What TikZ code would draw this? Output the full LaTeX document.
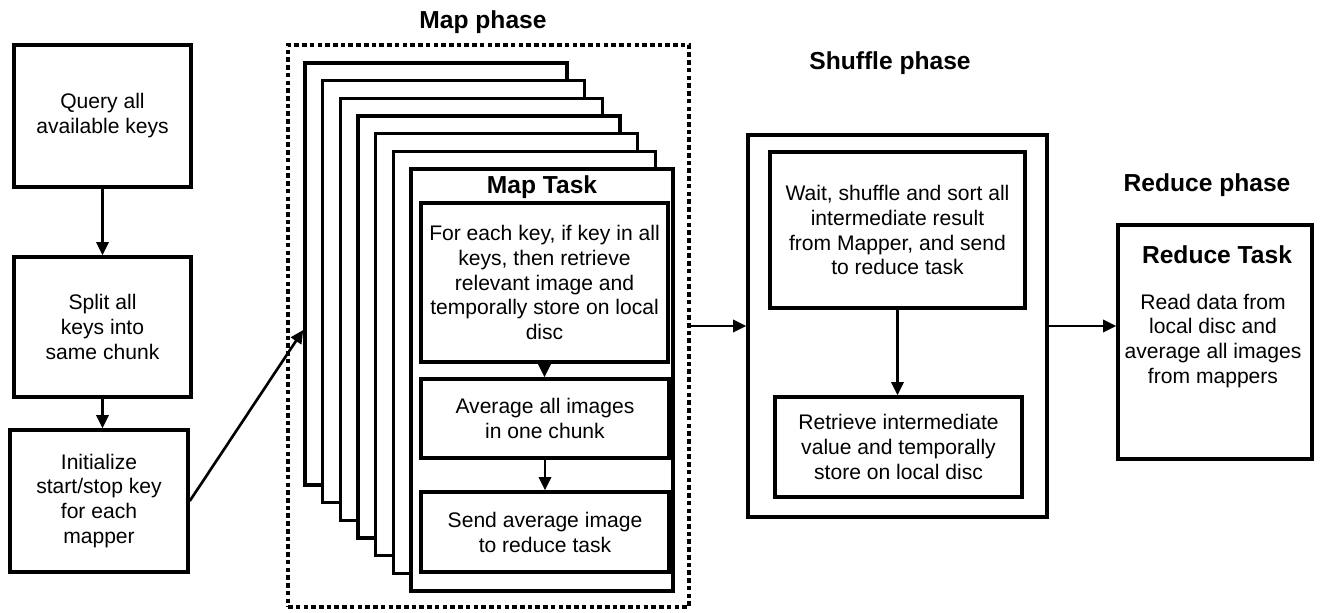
\documentclass[tikz,border=0pt]{standalone}
\usepackage{fontspec}
\setmainfont{Liberation Sans}
\usepackage{tikz}
\usetikzlibrary{arrows.meta, positioning, calc}

\begin{document}
\begin{tikzpicture}[x=0.02cm,y=-0.02cm,
                    >={Triangle[length=7.5pt,width=7pt]},
                    box/.style={draw,line width=2pt,fill=white,align=center,inner sep=0pt,font=\fontsize{12}{14.2}\selectfont},
                    phase/.style={font=\bfseries\fontsize{14}{16}\selectfont},
                    link/.style={->,line width=1.5pt}]
 \useasboundingbox (0,0) rectangle (1321,612);

%Left column
 \node[box,minimum width=3.54cm,minimum height=2.84cm] (Query) at (102.5,116) {Query all\\available keys};
 \node[box,minimum width=3.54cm,minimum height=2.80cm] (Split) at (102.5,327) {Split all\\keys into\\same chunk};
 \node[box,minimum width=3.56cm,minimum height=2.84cm] (Init) at (99,501) {Initialize\\start/stop key\\for each\\mapper};

 \draw[link] (Query.south) -- (Split.north);
 \draw[link] (Split.south) -- (Split.south |- Init.north);

%Map phase
 \node[phase] (MapLabel) at (483,22) {Map phase};
 \node[draw,line width=2pt,dash pattern=on 2.6pt off 1.8pt,minimum width=8.02cm,minimum height=11.24cm] (MapBox) at (488.5,326) {};

 \foreach \i in {0,...,6}
    \node[box,minimum width=5.24cm,minimum height=8.44cm] (Stack\i) at ({436+17.67*\i},{274+17.67*\i}) {};

 \draw[link] (Init.east) -- ([yshift=-1.12cm]Stack0.west);

 \node[phase] (MapTask) at (542,187) {Map Task};
 \node[box,minimum width=4.94cm,minimum height=3.18cm] (Retrieve) at (544.5,282.5) {For each key, if key in all\\keys, then retrieve\\relevant image and\\temporally store on local\\disc};
 \node[box,minimum width=4.96cm,minimum height=1.58cm] (Average) at (545,418.5) {Average all images\\in one chunk};
 \node[box,minimum width=4.96cm,minimum height=1.60cm] (Send) at (545,532) {Send average image\\to reduce task};

 \draw[link] (Retrieve.south) -- (Retrieve.south |- Average.north);
 \draw[link] (Average.south) -- (Send.north);

%Shuffle phase
 \node[phase] (ShuffleLabel) at (890,63) {Shuffle phase};
 \node[box,minimum width=5.98cm,minimum height=7.64cm] (Shuffle) at (897.5,326) {};
 \node[box,minimum width=5.10cm,minimum height=3.12cm] (Sort) at (897.5,230) {Wait, shuffle and sort all\\intermediate result\\from Mapper, and send\\to reduce task};
 \node[box,minimum width=4.94cm,minimum height=2.00cm] (Store) at (898.5,447) {Retrieve intermediate\\value and temporally\\store on local disc};

 \draw[link] (Sort.south) -- (Sort.south |- Store.north);
 \draw[link] (MapBox.east) -- (Shuffle.west);

%Reduce phase
 \node[phase] (ReduceLabel) at (1207,185) {Reduce phase};
 \node[box,minimum width=3.88cm,minimum height=4.68cm] (Reduce) at (1215,342) {};
 \node[phase] (ReduceTask) at (1217,255) {Reduce Task};
 \node[align=center,font=\fontsize{12}{14.2}\selectfont] (ReduceText) at (1213,341) {Read data from\\local disc and\\average all images\\from mappers};

 \draw[link] (Shuffle.east) -- (Shuffle.east -| Reduce.west);

\end{tikzpicture}
\end{document}
